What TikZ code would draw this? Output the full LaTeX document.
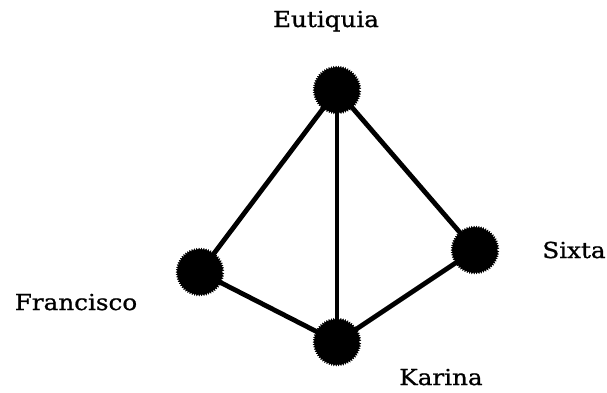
\documentclass[tikz,border=0pt]{standalone}
\usepackage{fontspec}
\newfontfamily\labfont[FakeStretch=1.12,FakeBold=0.9]{DejaVu Serif}
\usetikzlibrary{decorations.pathmorphing}
\begin{document}
\begin{tikzpicture}[x=1pt,y=-1pt,
  vert/.style={circle,fill=black,draw=black,line width=1.4pt,minimum size=43pt,inner sep=0pt,
    decorate,decoration={zigzag,segment length=2.2pt,amplitude=1.1pt}},
  edge/.style={line width=4.8pt,black},
  lab/.style={font=\labfont\fontsize{22}{26}\selectfont,inner sep=0pt,anchor=base}]
\useasboundingbox (0,0) rectangle (607,392);
\node[vert] (E) at (337,90) {};
\node[vert] (F) at (200,272) {};
\node[vert] (K) at (337,342) {};
\node[vert] (S) at (475,250) {};
\draw[edge] (E.center) -- (F.center);
\draw[edge] (E.center) -- (K.center);
\draw[edge] (E.center) -- (S.center);
\draw[edge] (F.center) -- (K.center);
\draw[edge] (K.center) -- (S.center);
\node[vert] at (E.center) {};
\node[vert] at (F.center) {};
\node[vert] at (K.center) {};
\node[vert] at (S.center) {};
\node[lab] (tE) at (326,27) {Eutiquia};
\node[lab] (tS) at (574,258) {Sixta};
\node[lab] (tF) at (76,310) {Francisco};
\node[lab] (tK) at (441,385) {Karina};
\end{tikzpicture}
\end{document}
